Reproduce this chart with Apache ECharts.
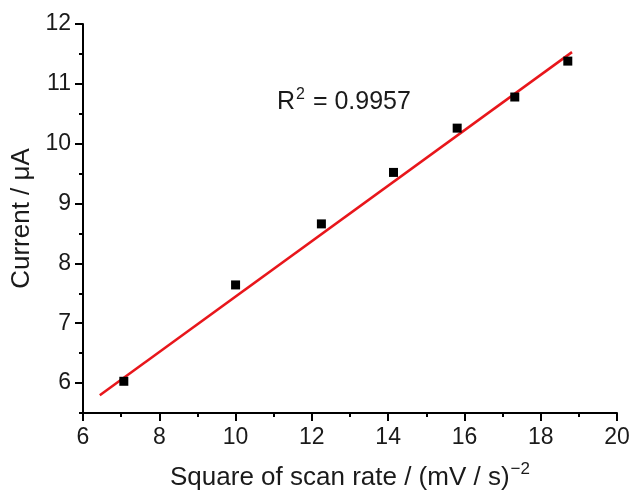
<!DOCTYPE html>
<html>
<head>
<meta charset="utf-8">
<script src="https://cdn.jsdelivr.net/npm/echarts@6/dist/echarts.min.js"></script>
<style>
  html, body { margin: 0; padding: 0; background: #fff; }
  #chart { width: 632px; height: 490px; }
</style>
</head>
<body>
<div id="chart"></div>
<script>
// measured points
const scanX = [7.07, 10.0, 12.25, 14.14, 15.81, 17.32, 18.71];
const currentY = [6.03, 7.64, 8.66, 9.52, 10.26, 10.78, 11.38];

// linear fit line end points
const fitX = [6.44, 18.82];
const fitY = [5.795, 11.53];

const yMajorTicks = [6, 7, 8, 9, 10, 11, 12];
const rSquared = '0.9957';

const chart = echarts.init(document.getElementById('chart'));

const font = 'Liberation Sans, Arial, sans-serif';
const textColor = '#1a1a1a';

const option = {
    animation: false,
    grid: { left: 83, right: 15, top: 24, bottom: 77, outerBoundsMode: 'none' },
    xAxis: {
        type: 'value',
        min: 6,
        max: 20,
        interval: 2,
        name: '{t|Square of scan rate / (mV / s)}{sup|\u22122}',
        nameLocation: 'middle',
        nameGap: 48,
        nameTextStyle: {
            rich: {
                t: { fontSize: 26, fontFamily: font, color: textColor },
                sup: { fontSize: 17, fontFamily: font, color: textColor, verticalAlign: 'top', padding: [0, 0, 17, 1] }
            }
        },
        axisLine: { lineStyle: { color: '#000', width: 2 } },
        axisTick: { inside: false, length: 8, lineStyle: { color: '#000', width: 2 } },
        minorTick: { show: true, splitNumber: 2, length: 4, lineStyle: { color: '#000', width: 2 } },
        axisLabel: { fontSize: 23, fontFamily: font, color: textColor, margin: 13 },
        splitLine: { show: false }
    },
    yAxis: [{
        type: 'value',
        min: 5.5,
        max: 12,
        name: 'Current / \u03bcA',
        nameLocation: 'middle',
        nameGap: 46,
        nameTextStyle: { fontSize: 26, fontFamily: font, color: textColor },
        axisLine: { lineStyle: { color: '#000', width: 2 } },
        axisTick: { inside: false, length: 8, customValues: yMajorTicks, lineStyle: { color: '#000', width: 2 } },
        axisLabel: { fontSize: 23, fontFamily: font, color: textColor, margin: 12, customValues: yMajorTicks },
        splitLine: { show: false }
    }, {
        type: 'value',
        min: 5.5,
        max: 12,
        interval: 0.5,
        position: 'left',
        axisLine: { show: false },
        axisTick: { inside: false, length: 4, lineStyle: { color: '#000', width: 2 } },
        axisLabel: { show: false },
        splitLine: { show: false }
    }],
    graphic: [{
        type: 'text',
        left: 277,
        top: 87,
        style: {
            text: '{t|R}{sup|2}{t| = ' + rSquared + '}',
            rich: {
                t: { fontSize: 25, fontFamily: font, fill: textColor },
                sup: { fontSize: 16, fontFamily: font, fill: textColor, verticalAlign: 'top', padding: [0, 1, 14, 1] }
            }
        }
    }],
    series: [{
        type: 'line',
        data: fitX.map((x, i) => [x, fitY[i]]),
        showSymbol: false,
        symbol: 'none',
        lineStyle: { color: '#e8161b', width: 2.5 },
        z: 2
    }, {
        type: 'scatter',
        data: scanX.map((x, i) => [x, currentY[i]]),
        symbol: 'rect',
        symbolSize: 9,
        itemStyle: { color: '#000', opacity: 1 },
        z: 3
    }]
};

chart.setOption(option);
</script>
</body>
</html>
